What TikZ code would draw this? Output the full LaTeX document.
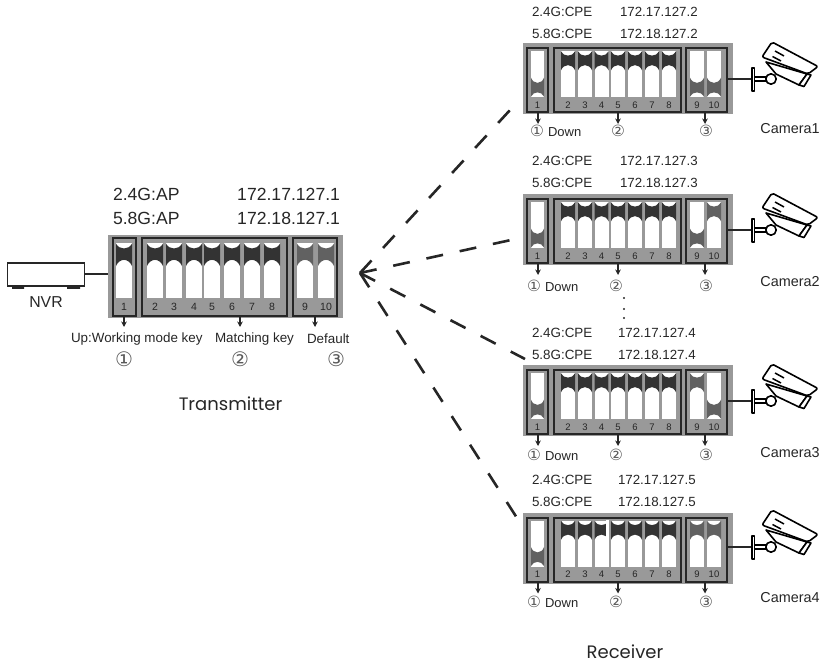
\documentclass[tikz,border=0pt]{standalone}
\usepackage{fontspec}
\setmainfont{Liberation Sans}
\newfontfamily\geo{Poppins}
\newfontfamily\sym{DejaVu Sans}
\usetikzlibrary{arrows.meta}
\definecolor{ink}{gray}{0.15}
\definecolor{panelgray}{gray}{0.60}
\definecolor{bandone}{gray}{0.20}
\definecolor{bandtwo}{gray}{0.38}
\newcommand{\fs}[1]{\fontsize{#1}{#1}\selectfont}
\tikzset{
  x=1pt,y=-1pt,
  panelbg/.style={fill=panelgray,draw=none,inner sep=0,outer sep=0,anchor=north west},
  keyframe/.style={draw=ink,line width=2pt,inner sep=0,outer sep=0,anchor=north west},
  txt/.style={inner sep=0,outer sep=0,text=ink},
  circnum/.style={inner sep=0,outer sep=0,text=black!65},
  pinline/.style={ink,line width=1.3pt,-{Stealth[length=5.5pt,width=5.5pt]}},
  link/.style={ink,line width=1.5pt},
  wireless/.style={ink,line width=2.6pt,dash pattern=on 17pt off 17pt},
  camline/.style={black,line width=1.6pt,line join=round},
}
% \dipslot{xc}{w}{top}{bottom}{state 1 up / -1 down}{band colour}
\newcommand{\dipslot}[6]{%
  \pgfmathsetmacro{\hh}{#4-#3}%
  \pgfmathsetmacro{\aa}{ifthenelse(#5>0,#3,#4)}%
  \pgfmathsetmacro{\ea}{\aa+#5*0.01*\hh}%
  \pgfmathsetmacro{\ca}{\aa+#5*0.13*\hh}%
  \pgfmathsetmacro{\cb}{\aa+#5*0.27*\hh}%
  \pgfmathsetmacro{\sh}{\aa+#5*0.42*\hh}%
  \pgfmathsetmacro{\xl}{#1-#2/2}%
  \pgfmathsetmacro{\xr}{#1+#2/2}%
  \pgfmathsetmacro{\xa}{#1-0.3*#2}%
  \pgfmathsetmacro{\xb}{#1+0.3*#2}%
  \fill[white] (\xl,#3) rectangle (\xr,#4);
  \fill[#6] (\xl,\ea) .. controls (\xa,\ca) and (\xb,\ca) .. (\xr,\ea) -- (\xr,\sh) .. controls (\xb,\cb) and (\xa,\cb) .. (\xl,\sh) -- cycle;
}
\newcommand{\rxpanel}[9]{%
  \def\rn{#1}\def\ry{#2}\def\rsa{#3}\def\rsb{#4}\def\rtxa{#5}\def\rtxb{#6}\def\rip{#7}\def\ria{#8}\def\rib{#9}%
  \rxpanelb}
\newcommand{\rxpanelb}[7]{%
  \node[panelbg,minimum width=210pt,minimum height=71pt] (\rn) at (523,\ry) {};
  \pgfmathsetmacro{\fy}{\ry+5}%
  \pgfmathsetmacro{\st}{\ry+8}%
  \pgfmathsetmacro{\sb}{\ry+54}%
  \pgfmathsetmacro{\ly}{\ry+62}%
  \node[keyframe,minimum width=21pt,minimum height=64pt] (\rn f1) at (527,\fy) {};
  \node[keyframe,minimum width=127pt,minimum height=64pt] (\rn f2) at (554,\fy) {};
  \node[keyframe,minimum width=41pt,minimum height=64pt] (\rn f3) at (686,\fy) {};
  \dipslot{537.5}{13}{\st}{\sb}{-1}{bandtwo}
  \foreach \xx in {568,585,601.5,618,635,652,669}{\dipslot{\xx}{14}{\st}{\sb}{1}{bandone}}
  \dipslot{697}{14}{\st}{\sb}{\rsa}{bandtwo}
  \dipslot{714}{14}{\st}{\sb}{\rsb}{bandtwo}
  \foreach \xx/\tt in {537.5/1,568/2,585/3,601.5/4,618/5,635/6,652/7,669/8,697/9,714/10}{
    \node[txt,font=\fs{9.5}] (\rn n\tt) at (\xx,\ly) {\tt};}
  \pgfmathsetmacro{\ay}{\ry+81}%
  \coordinate (\rn a1) at (538,\ay);
  \coordinate (\rn a2) at (618,\ay);
  \coordinate (\rn a3) at (705,\ay);
  \draw[pinline] (\rn a1 |- \rn f1.south) -- (\rn a1);
  \draw[pinline] (\rn a2 |- \rn f2.south) -- (\rn a2);
  \draw[pinline] (\rn a3 |- \rn f3.south) -- (\rn a3);
  \pgfmathsetmacro{\tya}{\ry+\rtxa}%
  \pgfmathsetmacro{\tyb}{\ry+\rtxb}%
  \node[txt,anchor=west,font=\fs{13.4}] (\rn la) at (532,\tya) {2.4G:CPE};
  \node[txt,anchor=west,font=\fs{13.4}] (\rn lb) at (532,\tyb) {5.8G:CPE};
  \node[txt,anchor=west,font=\fs{13.3}] (\rn ia) at (\rip,\tya) {\ria};
  \node[txt,anchor=west,font=\fs{13.3}] (\rn ib) at (\rip,\tyb) {\rib};
  \node[circnum,font=\sym\fs{15.5}] (\rn c1) at (#1,#4) {①};
  \node[txt,anchor=west,font=\fs{13}] (\rn dn) at (#2,#4+1) {Down};
  \node[circnum,font=\sym\fs{15.5}] (\rn c2) at (#3,#4) {②};
  \node[circnum,font=\sym\fs{15.5}] (\rn c3) at (706,#4) {③};
  \node[txt,font=\fs{14.4}] (\rn cam) at (790,#5) {#6};
  \coordinate (\rn cw) at (752,#7);
  \draw[link] (\rn f3.east |- \rn cw) -- (\rn cw);
  \begin{scope}[shift={(0,#7-79)}]
    \camdraw
  \end{scope}
}
\newcommand{\camdraw}{%
  \draw[camline,fill=white] (752,68) rectangle (754.5,91);
  \draw[camline] (754.5,76.8) -- (767,76.8) (754.5,81.2) -- (767,81.2);
  \draw[camline,fill=white] (766,62) -- (776,74) -- (799,85) -- (807,74) -- cycle;
  \draw[camline,fill=white] (799,85) -- (804,86.5) -- (811,75) -- (807,74) -- cycle;
  \draw[camline,fill=white] (771,79) circle (5.2pt);
  \draw[camline,fill=white,rounded corners=2pt] (762,57) -- (772,42) -- (818,66.5) -- (808,74) -- cycle;
  \draw[camline,line width=1.5pt] (775,51) -- (784,56) (772.5,56.5) -- (781,61);
}
\begin{document}
\begin{tikzpicture}
\useasboundingbox (0,0) rectangle (823,663);
% NVR
\node[draw=ink,line width=1.6pt,fill=white,inner sep=0,outer sep=0,anchor=north west,minimum width=77pt,minimum height=23pt] (nvr) at (7.5,263) {};
\fill[ink] (12,286) rectangle (24,289) (67,286) rectangle (80,289);
\node[txt,font=\fs{15.8}] (nvrl) at (46,302) {NVR};
% Transmitter
\node[panelbg,minimum width=235pt,minimum height=83pt] (tx) at (108,235) {};
\node[keyframe,minimum width=23pt,minimum height=78pt] (tf1) at (113,238) {};
\node[keyframe,minimum width=145pt,minimum height=78pt] (tf2) at (142,238) {};
\node[keyframe,minimum width=44pt,minimum height=78pt] (tf3) at (293,238) {};
\draw[link] (nvr.east |- 0,274) -- (tx.west |- 0,274);
\dipslot{124}{16}{243}{298}{1}{bandone}
\foreach \xx in {155,174,194,212,232,252,272}{\dipslot{\xx}{16}{243}{298}{1}{bandone}}
\dipslot{305}{16}{243}{298}{1}{bandtwo}
\dipslot{326}{16}{243}{298}{1}{bandtwo}
\foreach \xx/\tt in {124/1,155/2,174/3,194/4,212/5,232/6,252/7,272/8,305/9,326/10}{
  \node[txt,font=\fs{10.5}] (tn\tt) at (\xx,307) {\tt};}
\coordinate (ta1) at (124,327);
\coordinate (ta2) at (240,327);
\coordinate (ta3) at (315,327);
\draw[pinline] (ta1 |- tf1.south) -- (ta1);
\draw[pinline] (ta2 |- tf2.south) -- (ta2);
\draw[pinline] (ta3 |- tf3.south) -- (ta3);
\node[txt,anchor=west,font=\fs{17.6}] (tla) at (113,194) {2.4G:AP};
\node[txt,anchor=west,font=\fs{17.6}] (tlb) at (113,218) {5.8G:AP};
\node[txt,anchor=east,font=\fs{17.6}] (tia) at (340,194) {172.17.127.1};
\node[txt,anchor=east,font=\fs{17.6}] (tib) at (340,218) {172.18.127.1};
\node[txt,anchor=west,font=\fs{13.4}] (tk1) at (71,339) {Up:Working mode key};
\node[txt,anchor=west,font=\fs{13.4}] (tk2) at (215,339) {Matching key};
\node[txt,anchor=west,font=\fs{13.4}] (tk3) at (307,339) {Default};
\node[circnum,font=\sym\fs{20}] (tc1) at (124,359) {①};
\node[circnum,font=\sym\fs{20}] (tc2) at (240,359) {②};
\node[circnum,font=\sym\fs{20}] (tc3) at (336,359) {③};
\node[txt,font=\geo\fs{18}] (tname) at (230.5,404) {Transmitter};
% Receivers
\rxpanel{ra}{43}{-1}{-1}{-31}{-9}{620}{172.17.127.2}{172.18.127.2}{537}{548}{618}{131}{129}{Camera1}{79}
\rxpanel{rb}{194}{-1}{1}{-33}{-11}{620}{172.17.127.3}{172.18.127.3}{534}{545}{616}{286}{282}{Camera2}{230}
\rxpanel{rc}{365}{1}{-1}{-32}{-10}{618}{172.17.127.4}{172.18.127.4}{534}{545}{616}{455}{453}{Camera3}{401}
\rxpanel{rd}{512.5}{1}{1}{-32.5}{-10.5}{618}{172.17.127.5}{172.18.127.5}{534}{545}{616}{602}{598}{Camera4}{547}
\fill[white] (606,520) rectangle (608.5,541);
\node[txt,font=\geo\fs{18}] (rname) at (625,651.5) {Receiver};
% dots
\foreach \yy in {298,309,318}{\fill[ink] (624,\yy) circle (1.2pt);}
% Wireless links
\coordinate (tip) at (360,273);
\coordinate (e1) at (511,109);
\coordinate (e2) at (511,240);
\coordinate (e3) at (525,359);
\coordinate (e4) at (517,518);
\draw[wireless] (tip) -- (e1);
\draw[wireless] (tip) -- (e2);
\draw[wireless] (tip) -- (e3);
\draw[wireless] (tip) -- (e4);
\end{tikzpicture}
\end{document}
